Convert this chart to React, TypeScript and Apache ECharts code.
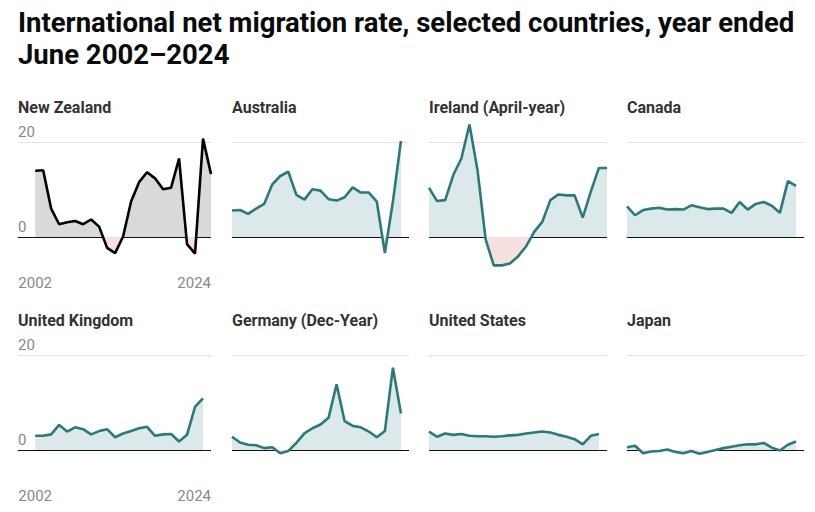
import React, { useEffect, useRef } from "react";
import * as echarts from "echarts";

const years = [2002, 2003, 2004, 2005, 2006, 2007, 2008, 2009, 2010, 2011, 2012, 2013, 2014, 2015, 2016, 2017, 2018, 2019, 2020, 2021, 2022, 2023, 2024];

const newZealand = [14.0, 14.1, 6.0, 2.7, 3.1, 3.4, 2.7, 3.7, 2.2, -2.3, -3.4, 0.1, 7.5, 11.6, 13.7, 12.4, 10.1, 10.4, 16.6, -1.5, -3.5, 20.8, 13.3];
const australia = [5.6, 5.7, 4.9, 6.0, 7.0, 11.1, 12.9, 13.8, 8.9, 7.9, 10.1, 9.8, 8.0, 7.7, 8.4, 10.5, 9.4, 9.4, 7.5, -3.4, 7.5, 20.3];
const ireland = [10.4, 7.6, 7.8, 13.1, 16.6, 23.8, 14.1, -0.5, -6.0, -6.0, -5.6, -4.1, -2.0, 1.1, 3.2, 7.8, 9.0, 8.8, 8.8, 4.1, 9.6, 14.6, 14.6];
const canada = [6.5, 4.6, 5.7, 6.0, 6.2, 5.8, 5.9, 5.8, 6.7, 6.3, 5.9, 6.0, 6.0, 5.1, 7.4, 5.8, 7.0, 7.4, 6.6, 5.1, 11.8, 10.8];
const unitedKingdom = [3.0, 3.0, 3.3, 5.3, 3.9, 4.8, 4.4, 3.3, 4.0, 4.4, 2.7, 3.5, 4.0, 4.6, 4.9, 3.0, 3.3, 3.4, 1.8, 3.2, 9.1, 10.9];
const germany = [2.8, 1.6, 1.1, 1.0, 0.4, 0.6, -0.7, -0.2, 1.5, 3.5, 4.6, 5.4, 6.8, 13.9, 6.1, 5.1, 4.8, 3.9, 2.7, 4.0, 17.4, 7.7];
const unitedStates = [3.9, 2.8, 3.5, 3.2, 3.4, 3.0, 2.9, 2.9, 2.8, 2.9, 3.1, 3.2, 3.5, 3.7, 3.9, 3.7, 3.2, 2.8, 2.3, 1.2, 3.0, 3.4];
const japan = [0.6, 0.9, -0.7, -0.3, -0.2, 0.1, -0.4, -0.7, -0.2, -0.8, -0.4, 0.0, 0.4, 0.7, 1.0, 1.2, 1.2, 1.5, 0.5, -0.1, 1.1, 1.8];

const panelNames = ["New Zealand", "Australia", "Ireland (April-year)", "Canada", "United Kingdom", "Germany (Dec-Year)", "United States", "Japan"];
const panelValues = [newZealand, australia, ireland, canada, unitedKingdom, germany, unitedStates, japan];
const yTickLabels = [0, 20];
const xTickLabels = [2002, 2024];

const TITLE = "International net migration rate, selected countries, year ended\nJune 2002\u20132024";

const FONT = "Roboto, 'Noto Sans', sans-serif";
const TEAL = "#2b7a78";
const TEAL_AREA = "#dbe9ea";
const GRAY_AREA = "#d9d9d9";
const NEG_AREA = "#f6e0e0";

const columns = [
  { left: 18, width: 193, xmin: 1999.85 },
  { left: 232, width: 177, xmin: 2002 },
  { left: 429, width: 178, xmin: 2002 },
  { left: 627, width: 177, xmin: 2002 },
];
const rows = [
  { top: 118.75, titleTop: 98 },
  { top: 331.75, titleTop: 311 },
];
const GRID_H = 156.1;

function areaGradient(values: number[], pos: string, neg: string) {
  const maxV = Math.max(0, ...values);
  const minV = Math.min(0, ...values);
  const o = maxV - minV === 0 ? 1 : maxV / (maxV - minV);
  return new echarts.graphic.LinearGradient(0, 0, 0, 1, [
    { offset: 0, color: pos },
    { offset: o, color: pos },
    { offset: o, color: neg },
    { offset: 1, color: neg },
  ]);
}

export default function App() {
  const ref = useRef<HTMLDivElement>(null);

  useEffect(() => {
    if (!ref.current) return;
    const chart = echarts.init(ref.current, null, { renderer: "svg" });

    const grids: any[] = [];
    const xAxes: any[] = [];
    const yAxes: any[] = [];
    const series: any[] = [];
    const titles: any[] = [
      {
        text: TITLE,
        left: 18,
        top: 6.5,
        padding: 0,
        textStyle: {
          fontFamily: FONT,
          fontSize: 27.5,
          fontWeight: "bold",
          color: "#0a0a0a",
          lineHeight: 32,
        },
      },
    ];

    panelNames.forEach((name, i) => {
      const col = columns[i % 4];
      const row = rows[Math.floor(i / 4)];
      const first = i % 4 === 0;
      const isNZ = i === 0;
      const values = panelValues[i];

      grids.push({ left: col.left, top: row.top, width: col.width, height: GRID_H, containLabel: false });

      titles.push({
        text: name,
        left: col.left,
        top: row.titleTop,
        padding: 0,
        textStyle: { fontFamily: FONT, fontSize: 16, fontWeight: "bold", color: "#333", lineHeight: 18 },
      });

      xAxes.push({
        type: "value",
        gridIndex: i,
        min: col.xmin,
        max: 2024,
        axisLine: { show: false, onZero: false },
        axisTick: { show: false },
        splitLine: { show: false },
        axisLabel: {
          show: first,
          customValues: xTickLabels,
          margin: 1,
          fontFamily: FONT,
          fontSize: 15,
          color: "#888",
          alignMinLabel: "center",
          alignMaxLabel: "right",
          formatter: (v: number) => String(v),
        },
      });

      yAxes.push({
        type: "value",
        gridIndex: i,
        min: -8,
        max: 25,
        axisLine: { show: false },
        axisTick: { show: false },
        splitLine: { show: false },
        axisLabel: {
          show: first,
          inside: true,
          customValues: yTickLabels,
          margin: 0,
          verticalAlign: "bottom",
          padding: [0, 0, 3, 0],
          fontFamily: FONT,
          fontSize: 15,
          color: "#888",
          formatter: (v: number) => String(v),
        },
      });

      series.push({
        type: "line",
        xAxisIndex: i,
        yAxisIndex: i,
        data: values.map((v, k) => [years[k], v]),
        symbol: "none",
        lineStyle: { color: isNZ ? "#000" : TEAL, width: 2.6 },
        itemStyle: { color: isNZ ? "#000" : TEAL },
        areaStyle: {
          origin: 0,
          opacity: 1,
          color: areaGradient(values, isNZ ? GRAY_AREA : TEAL_AREA, NEG_AREA),
        },
        z: 3,
        markLine: {
          silent: true,
          symbol: ["none", "none"],
          label: { show: false },
          z: 2,
          data: [
            { yAxis: 20, lineStyle: { color: "#e3e3e3", width: 1, type: "solid" } },
            { yAxis: 0, lineStyle: { color: "#111", width: 1.2, type: "solid" } },
          ],
        },
      });
    });

    chart.setOption({
      animation: false,
      backgroundColor: "#fff",
      title: titles,
      grid: grids,
      xAxis: xAxes,
      yAxis: yAxes,
      series,
    });

    return () => chart.dispose();
  }, []);

  return (
    <div
      ref={ref}
      style={{ position: "fixed", left: 0, top: 0, width: 815, height: 512, background: "#fff" }}
    />
  );
}
